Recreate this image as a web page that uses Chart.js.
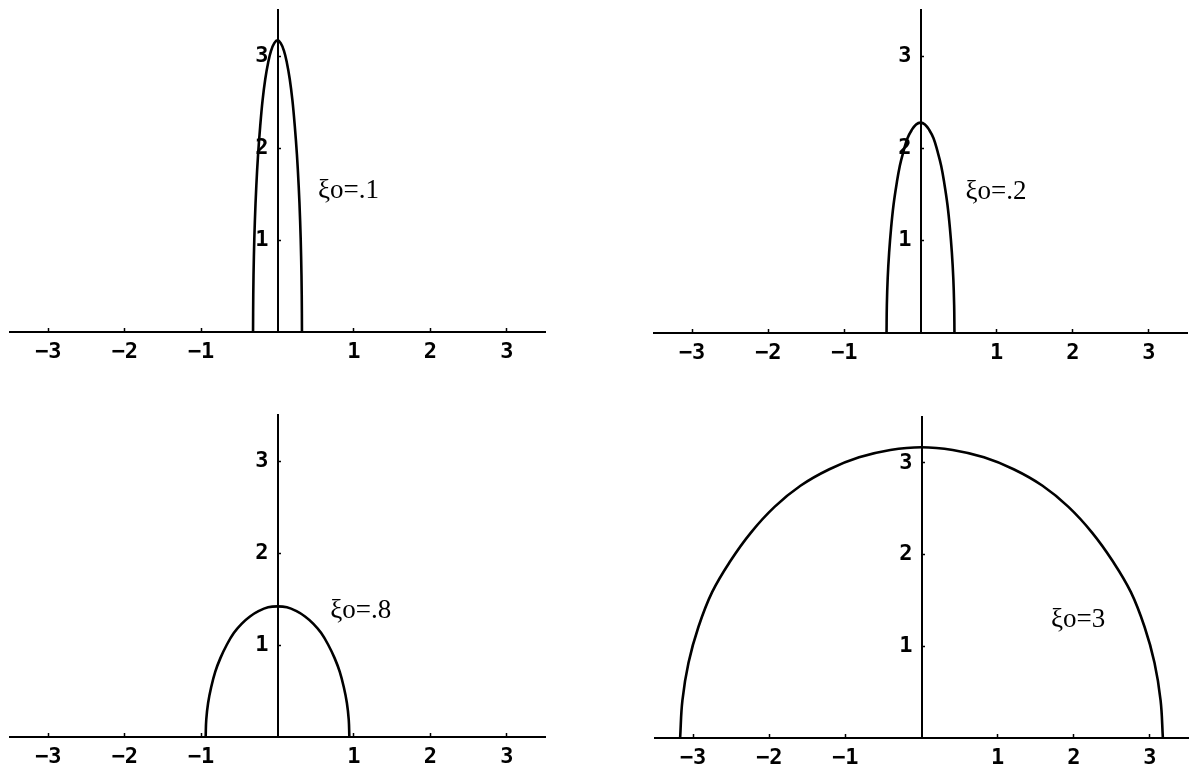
<!DOCTYPE html>
<html>
<head>
<meta charset="utf-8">
<script src="https://cdn.jsdelivr.net/npm/chart.js@4.4.1/dist/chart.umd.min.js"></script>
<style>
  html, body { margin: 0; padding: 0; background: #fff; }
  body { width: 1190px; height: 771px; position: relative; overflow: hidden; }
  canvas { position: absolute; }
</style>
</head>
<body>
<canvas id="p1"></canvas>
<canvas id="p2"></canvas>
<canvas id="p3"></canvas>
<canvas id="p4"></canvas>
<script>
// Axis ticks shared by all four panels
const xTickValues = [-3, -2, -1, 1, 2, 3];
const xTickLabels = ['−3', '−2', '−1', '1', '2', '3'];
const yTickValues = [1, 2, 3];
const yTickLabels = ['1', '2', '3'];

// ξo = .1
const xi01X = [-0.320, -0.317, -0.309, -0.296, -0.277, -0.254, -0.226, -0.195, -0.160, -0.122, -0.083, -0.042, 0,
               0.042, 0.083, 0.122, 0.160, 0.195, 0.226, 0.254, 0.277, 0.296, 0.309, 0.317, 0.320];
const xi01Y = [0, 0.41, 0.82, 1.21, 1.59, 1.93, 2.24, 2.52, 2.75, 2.93, 3.06, 3.14, 3.17,
               3.14, 3.06, 2.93, 2.75, 2.52, 2.24, 1.93, 1.59, 1.21, 0.82, 0.41, 0];

// ξo = .2
const xi02X = [-0.446, -0.442, -0.431, -0.412, -0.386, -0.354, -0.315, -0.272, -0.223, -0.171, -0.115, -0.058, 0,
               0.058, 0.115, 0.171, 0.223, 0.272, 0.315, 0.354, 0.386, 0.412, 0.431, 0.442, 0.446];
const xi02Y = [0, 0.30, 0.59, 0.87, 1.14, 1.39, 1.61, 1.81, 1.97, 2.11, 2.20, 2.26, 2.28,
               2.26, 2.20, 2.11, 1.97, 1.81, 1.61, 1.39, 1.14, 0.87, 0.59, 0.30, 0];

// ξo = .8
const xi08X = [-0.940, -0.932, -0.908, -0.868, -0.814, -0.746, -0.665, -0.572, -0.470, -0.360, -0.243, -0.123, 0,
               0.123, 0.243, 0.360, 0.470, 0.572, 0.665, 0.746, 0.814, 0.868, 0.908, 0.932, 0.940];
const xi08Y = [0, 0.19, 0.37, 0.54, 0.71, 0.86, 1.00, 1.13, 1.23, 1.31, 1.37, 1.41, 1.42,
               1.41, 1.37, 1.31, 1.23, 1.13, 1.00, 0.86, 0.71, 0.54, 0.37, 0.19, 0];

// ξo = 3
const xi3X = [-3.17, -3.14, -3.06, -2.93, -2.75, -2.51, -2.24, -1.93, -1.59, -1.21, -0.82, -0.41, 0,
              0.41, 0.82, 1.21, 1.59, 1.93, 2.24, 2.51, 2.75, 2.93, 3.06, 3.14, 3.17];
const xi3Y = [0, 0.41, 0.82, 1.21, 1.59, 1.93, 2.24, 2.52, 2.75, 2.93, 3.06, 3.14, 3.17,
              3.14, 3.06, 2.93, 2.75, 2.52, 2.24, 1.93, 1.59, 1.21, 0.82, 0.41, 0];

// Panel captions and where they sit (data units: left edge, vertical middle)
const noteLabels = ['ξo=.1', 'ξo=.2', 'ξo=.8', 'ξo=3'];
const noteX = [0.53, 0.59, 0.69, 1.70];
const noteY = [1.53, 1.53, 1.37, 1.29];

const PAD = 10;        // room around the plot area inside each canvas
const AXIS_H = 40;     // height reserved for the x tick labels
const Y_LABEL_GAP = 9; // gap between y tick labels and the y axis

const panels = [
  { id: 'p1', area: [10, 10, 545, 332],  xs: xi01X, ys: xi01Y },
  { id: 'p2', area: [654, 10, 1187, 333], xs: xi02X, ys: xi02Y },
  { id: 'p3', area: [10, 415, 545, 737], xs: xi08X, ys: xi08Y },
  { id: 'p4', area: [655, 417, 1188, 738], xs: xi3X, ys: xi3Y }
];

const tickFont = { family: '"DejaVu Sans Mono", monospace', size: 22, weight: 'bold' };

// Caption text placed in data coordinates
const notePlugin = {
  id: 'note',
  afterDatasetsDraw(chart, args, opts) {
    const { ctx, scales } = chart;
    ctx.save();
    ctx.fillStyle = '#000';
    ctx.font = '27px "Liberation Serif", "DejaVu Serif", serif';
    ctx.textAlign = 'left';
    ctx.textBaseline = 'middle';
    ctx.fillText(opts.text, scales.x.getPixelForValue(opts.x), scales.y.getPixelForValue(opts.y));
    ctx.restore();
  }
};

// A y axis anchored at x = 0 puts its labels flush against the line; nudge them left
const yLabelGap = {
  id: 'yLabelGap',
  beforeDraw(chart) {
    const s = chart.scales.y;
    const items = s.getLabelItems();
    if (items._shifted) return;
    items.forEach(it => { it.options.translation[0] -= Y_LABEL_GAP; });
    items._shifted = true;
  }
};

// Keep the plot area fixed: tick labels must not push the axes around
function noAxisPadding(s) {
  s.paddingTop = 0; s.paddingBottom = 0; s.paddingLeft = 0; s.paddingRight = 0;
}

panels.forEach((p, i) => {
  const [L, T, R, B] = p.area;
  const cv = document.getElementById(p.id);
  const w = R - L + 2 * PAD;
  const h = B - T + PAD + AXIS_H;
  cv.width = w; cv.height = h;
  cv.style.left = (L - PAD) + 'px';
  cv.style.top = (T - PAD) + 'px';
  cv.style.width = w + 'px';
  cv.style.height = h + 'px';

  new Chart(cv, {
    type: 'scatter',
    data: {
      datasets: [{
        data: p.xs.map((x, k) => ({ x: x, y: p.ys[k] })),
        showLine: true,
        borderColor: '#000',
        borderWidth: 2.6,
        borderJoinStyle: 'round',
        pointRadius: 0,
        fill: false,
        tension: 0.4,
        clip: 6
      }]
    },
    options: {
      responsive: false,
      animation: false,
      devicePixelRatio: 1,
      layout: { padding: { left: PAD, right: PAD, top: PAD, bottom: 0 } },
      plugins: {
        legend: { display: false },
        tooltip: { enabled: false },
        note: { text: noteLabels[i], x: noteX[i], y: noteY[i] }
      },
      scales: {
        x: {
          type: 'linear',
          position: 'bottom',
          min: -3.5,
          max: 3.5,
          afterBuildTicks: s => { s.ticks = xTickValues.map(v => ({ value: v })); },
          afterFit: s => { s.height = AXIS_H; noAxisPadding(s); },
          grid: { display: true, drawOnChartArea: false, drawTicks: true, tickLength: -4, tickWidth: 1.5, tickColor: '#000' },
          border: { display: true, color: '#000', width: 2 },
          ticks: {
            autoSkip: false, maxRotation: 0, padding: 11, color: '#000', font: tickFont,
            callback: (v, idx) => xTickLabels[idx]
          }
        },
        y: {
          type: 'linear',
          position: { x: 0 },
          min: 0,
          max: 3.5,
          afterBuildTicks: s => { s.ticks = yTickValues.map(v => ({ value: v })); },
          afterFit: s => { s.width = 0; noAxisPadding(s); },
          grid: { display: true, drawOnChartArea: false, drawTicks: true, tickLength: -4, tickWidth: 1.5, tickColor: '#000' },
          border: { display: true, color: '#000', width: 2 },
          ticks: {
            autoSkip: false, padding: 0, color: '#000', font: tickFont,
            callback: (v, idx) => yTickLabels[idx]
          }
        }
      }
    },
    plugins: [notePlugin, yLabelGap]
  });
});
</script>
</body>
</html>
